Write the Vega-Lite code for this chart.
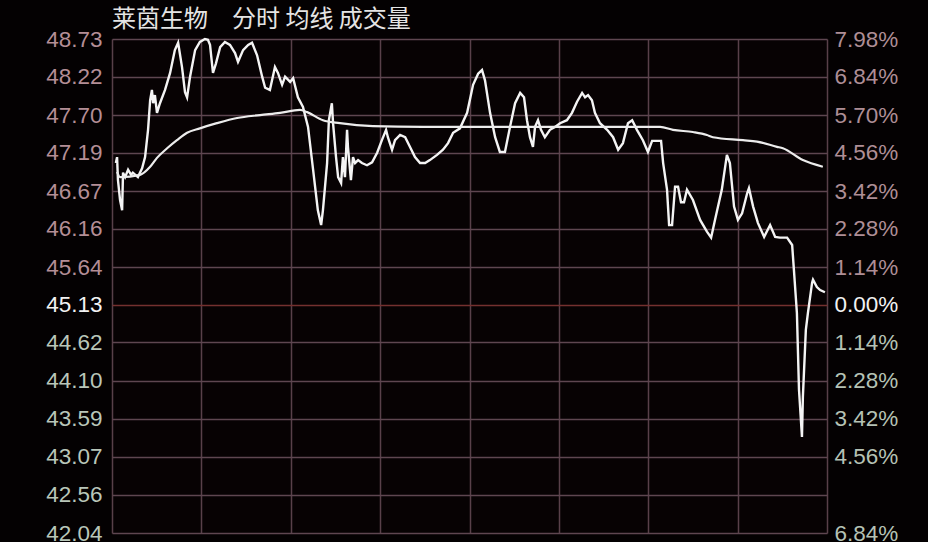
{
  "$schema": "https://vega.github.io/schema/vega-lite/v6.json",
  "autosize": "none",
  "width": 715,
  "height": 494,
  "padding": {"left": 112, "top": 39, "right": 101, "bottom": 9},
  "background": "#040102",
  "title": {
    "text": "莱茵生物　分时 均线 成交量",
    "anchor": "start",
    "frame": "group",
    "font": "Noto Sans CJK SC",
    "fontSize": 24,
    "fontWeight": "normal",
    "color": "#e4e4e4",
    "offset": 7,
    "dy": 11
  },
  "config": {
    "view": {"stroke": null, "fill": "#070203"},
    "axis": {"labelFont": "Liberation Sans", "labelFontSize": 22.5, "ticks": false, "domain": false, "title": null}
  },
  "datasets": {
    "price": [
      {"t": 1.3, "p": 47.05}, {"t": 1.7, "p": 47.13}, {"t": 2.0, "p": 46.82}, {"t": 2.7, "p": 46.55},
      {"t": 3.4, "p": 46.41}, {"t": 3.7, "p": 46.92}, {"t": 4.4, "p": 46.86}, {"t": 5.4, "p": 46.96},
      {"t": 6.4, "p": 46.89}, {"t": 7.0, "p": 46.92}, {"t": 8.7, "p": 46.86}, {"t": 10.1, "p": 46.98},
      {"t": 11.1, "p": 47.13}, {"t": 12.1, "p": 47.5}, {"t": 12.8, "p": 47.9}, {"t": 13.4, "p": 48.04},
      {"t": 13.8, "p": 47.86}, {"t": 14.4, "p": 47.97}, {"t": 15.1, "p": 47.73}, {"t": 16.1, "p": 47.86},
      {"t": 17.8, "p": 48.04}, {"t": 19.5, "p": 48.27}, {"t": 21.1, "p": 48.58}, {"t": 22.2, "p": 48.68},
      {"t": 23.5, "p": 48.35}, {"t": 24.5, "p": 48.01}, {"t": 25.2, "p": 47.94}, {"t": 26.2, "p": 48.22},
      {"t": 27.9, "p": 48.58}, {"t": 29.5, "p": 48.69}, {"t": 31.2, "p": 48.73}, {"t": 32.2, "p": 48.72},
      {"t": 32.9, "p": 48.65}, {"t": 33.9, "p": 48.27}, {"t": 34.9, "p": 48.4}, {"t": 36.3, "p": 48.62},
      {"t": 37.9, "p": 48.69}, {"t": 39.6, "p": 48.65}, {"t": 41.3, "p": 48.54}, {"t": 42.3, "p": 48.42},
      {"t": 44.0, "p": 48.58}, {"t": 45.7, "p": 48.65}, {"t": 47.0, "p": 48.68}, {"t": 48.7, "p": 48.51},
      {"t": 50.4, "p": 48.22}, {"t": 51.4, "p": 48.07}, {"t": 53.0, "p": 48.04}, {"t": 54.7, "p": 48.35},
      {"t": 55.7, "p": 48.27}, {"t": 57.1, "p": 48.11}, {"t": 58.1, "p": 48.22}, {"t": 59.8, "p": 48.15},
      {"t": 60.8, "p": 48.2}, {"t": 62.4, "p": 47.94}, {"t": 64.1, "p": 47.81}, {"t": 65.8, "p": 47.54},
      {"t": 67.5, "p": 46.96}, {"t": 69.1, "p": 46.41}, {"t": 70.2, "p": 46.21}, {"t": 70.8, "p": 46.41},
      {"t": 72.2, "p": 47.05}, {"t": 72.8, "p": 47.63}, {"t": 73.8, "p": 47.86}, {"t": 74.2, "p": 47.59},
      {"t": 75.2, "p": 47.13}, {"t": 75.9, "p": 46.86}, {"t": 76.9, "p": 46.78}, {"t": 77.5, "p": 47.13},
      {"t": 78.2, "p": 46.86}, {"t": 78.9, "p": 47.5}, {"t": 79.2, "p": 47.27}, {"t": 80.2, "p": 46.82},
      {"t": 80.9, "p": 47.13}, {"t": 81.6, "p": 47.05}, {"t": 82.6, "p": 47.09}, {"t": 83.9, "p": 47.05},
      {"t": 85.6, "p": 47.02}, {"t": 87.3, "p": 47.06}, {"t": 89.0, "p": 47.19}, {"t": 90.6, "p": 47.36},
      {"t": 92.0, "p": 47.5}, {"t": 92.6, "p": 47.4}, {"t": 94.0, "p": 47.23}, {"t": 95.0, "p": 47.36},
      {"t": 96.7, "p": 47.43}, {"t": 98.4, "p": 47.4}, {"t": 100.0, "p": 47.27}, {"t": 101.7, "p": 47.13},
      {"t": 103.4, "p": 47.05}, {"t": 105.1, "p": 47.05}, {"t": 106.7, "p": 47.09}, {"t": 109.1, "p": 47.16},
      {"t": 111.1, "p": 47.23}, {"t": 112.8, "p": 47.32}, {"t": 114.5, "p": 47.46}, {"t": 116.8, "p": 47.52},
      {"t": 119.2, "p": 47.73}, {"t": 121.2, "p": 48.11}, {"t": 122.9, "p": 48.26}, {"t": 124.2, "p": 48.31},
      {"t": 125.2, "p": 48.17}, {"t": 126.9, "p": 47.73}, {"t": 128.6, "p": 47.4}, {"t": 130.2, "p": 47.2},
      {"t": 131.9, "p": 47.2}, {"t": 133.6, "p": 47.54}, {"t": 135.3, "p": 47.86}, {"t": 137.0, "p": 48.0},
      {"t": 138.3, "p": 47.94}, {"t": 139.3, "p": 47.63}, {"t": 140.3, "p": 47.4}, {"t": 141.3, "p": 47.27},
      {"t": 142.0, "p": 47.54}, {"t": 143.0, "p": 47.63}, {"t": 144.0, "p": 47.5}, {"t": 145.3, "p": 47.4},
      {"t": 147.0, "p": 47.5}, {"t": 148.7, "p": 47.54}, {"t": 150.4, "p": 47.59}, {"t": 152.7, "p": 47.63},
      {"t": 154.4, "p": 47.73}, {"t": 156.1, "p": 47.88}, {"t": 157.8, "p": 48.0}, {"t": 158.8, "p": 47.94},
      {"t": 159.8, "p": 47.97}, {"t": 161.1, "p": 47.9}, {"t": 162.1, "p": 47.73}, {"t": 163.8, "p": 47.59},
      {"t": 166.2, "p": 47.5}, {"t": 168.2, "p": 47.4}, {"t": 169.9, "p": 47.23}, {"t": 171.5, "p": 47.32},
      {"t": 173.2, "p": 47.59}, {"t": 174.6, "p": 47.63}, {"t": 176.2, "p": 47.5}, {"t": 178.2, "p": 47.36},
      {"t": 179.9, "p": 47.2}, {"t": 181.3, "p": 47.35}, {"t": 184.3, "p": 47.35}, {"t": 185.0, "p": 47.05},
      {"t": 186.3, "p": 46.69}, {"t": 187.0, "p": 46.21}, {"t": 188.0, "p": 46.21}, {"t": 189.0, "p": 46.73},
      {"t": 190.0, "p": 46.73}, {"t": 191.0, "p": 46.52}, {"t": 192.0, "p": 46.52}, {"t": 193.0, "p": 46.69},
      {"t": 195.0, "p": 46.55}, {"t": 197.4, "p": 46.28}, {"t": 199.7, "p": 46.12}, {"t": 201.1, "p": 46.04},
      {"t": 202.4, "p": 46.28}, {"t": 204.7, "p": 46.69}, {"t": 206.4, "p": 47.16}, {"t": 207.4, "p": 47.05},
      {"t": 208.8, "p": 46.46}, {"t": 210.1, "p": 46.28}, {"t": 211.5, "p": 46.37}, {"t": 213.2, "p": 46.64},
      {"t": 213.8, "p": 46.71}, {"t": 215.2, "p": 46.46}, {"t": 216.8, "p": 46.24}, {"t": 218.9, "p": 46.05},
      {"t": 220.9, "p": 46.21}, {"t": 222.6, "p": 46.05}, {"t": 224.2, "p": 46.04}, {"t": 226.6, "p": 46.04},
      {"t": 228.3, "p": 45.94}, {"t": 228.9, "p": 45.6}, {"t": 229.9, "p": 45.02}, {"t": 230.6, "p": 43.98},
      {"t": 231.6, "p": 43.34}, {"t": 231.9, "p": 43.88}, {"t": 232.9, "p": 44.79}, {"t": 233.6, "p": 45.02},
      {"t": 235.0, "p": 45.43}, {"t": 235.3, "p": 45.47}, {"t": 236.6, "p": 45.37}, {"t": 237.7, "p": 45.33},
      {"t": 239.3, "p": 45.3}
    ],
    "avg": [
      {"t": 1.7, "p": 46.93}, {"t": 2.7, "p": 46.86}, {"t": 9.4, "p": 46.89}, {"t": 12.8, "p": 47.0},
      {"t": 15.1, "p": 47.12}, {"t": 18.5, "p": 47.25}, {"t": 21.8, "p": 47.36}, {"t": 25.2, "p": 47.46},
      {"t": 29.5, "p": 47.52}, {"t": 35.2, "p": 47.59}, {"t": 42.0, "p": 47.66}, {"t": 49.7, "p": 47.7},
      {"t": 56.4, "p": 47.73}, {"t": 63.1, "p": 47.77}, {"t": 65.5, "p": 47.74}, {"t": 70.8, "p": 47.63},
      {"t": 76.5, "p": 47.59}, {"t": 87.6, "p": 47.55}, {"t": 104.4, "p": 47.54}, {"t": 123.5, "p": 47.54},
      {"t": 184.0, "p": 47.54}, {"t": 188.3, "p": 47.5}, {"t": 195.0, "p": 47.47}, {"t": 199.7, "p": 47.43},
      {"t": 201.7, "p": 47.4}, {"t": 211.8, "p": 47.36}, {"t": 216.5, "p": 47.34}, {"t": 223.2, "p": 47.27},
      {"t": 225.2, "p": 47.25}, {"t": 231.9, "p": 47.09}, {"t": 238.6, "p": 47.0}
    ]
  },
  "encoding": {
    "x": {
      "field": "t",
      "type": "quantitative",
      "scale": {"domain": [0, 240], "nice": false, "zero": false},
      "axis": {
        "orient": "bottom",
        "values": [0, 30, 60, 90, 120, 150, 180, 210, 240],
        "labels": false,
        "grid": true,
        "gridColor": "#584049",
        "gridWidth": 1.5
      }
    }
  },
  "layer": [
    {
      "data": {"name": "price"},
      "mark": {"type": "line", "color": "#f4f4f4", "strokeWidth": 2.4, "interpolate": "linear"},
      "encoding": {
        "y": {
          "field": "p",
          "type": "quantitative",
          "scale": {"domain": [42.04, 48.73], "nice": false, "zero": false},
          "axis": {
            "orient": "left",
            "values": [48.73, 48.22, 47.7, 47.19, 46.67, 46.16, 45.64, 45.13, 44.62, 44.1, 43.59, 43.07, 42.56, 42.04],
            "format": ".2f",
            "labelPadding": 10,
            "labelColor": {
              "condition": [
                {"test": "datum.value > 45.2", "value": "#b48e96"},
                {"test": "datum.value < 45.1", "value": "#b9c6b9"}
              ],
              "value": "#f2f2f2"
            },
            "grid": true,
            "gridWidth": 1.5,
            "gridColor": {
              "condition": {"test": "abs(datum.value - 45.13) < 0.01", "value": "#74302f"},
              "value": "#5e4650"
            }
          }
        }
      }
    },
    {
      "data": {"name": "avg"},
      "mark": {"type": "line", "color": "#ececec", "strokeWidth": 2.2, "interpolate": "monotone"},
      "encoding": {
        "y": {
          "field": "p",
          "type": "quantitative",
          "scale": {"domain": [42.04, 48.73], "nice": false, "zero": false},
          "axis": {
            "orient": "right",
            "values": [48.73, 48.22, 47.7, 47.19, 46.67, 46.16, 45.64, 45.13, 44.62, 44.1, 43.59, 43.07, 42.56, 42.04],
            "labelExpr": "abs(datum.value - 42.56) < 0.01 ? '' : format(abs(round((datum.value - 45.13) / 0.5146)) * 1.14, '.2f') + '%'",
            "labelPadding": 7,
            "labelAlign": "left",
            "labelColor": {
              "condition": [
                {"test": "datum.value > 45.2", "value": "#ae8e96"},
                {"test": "datum.value < 45.1", "value": "#b5c2b5"}
              ],
              "value": "#f2f2f2"
            },
            "grid": false
          }
        }
      }
    }
  ],
  "resolve": {"scale": {"y": "independent"}}
}
